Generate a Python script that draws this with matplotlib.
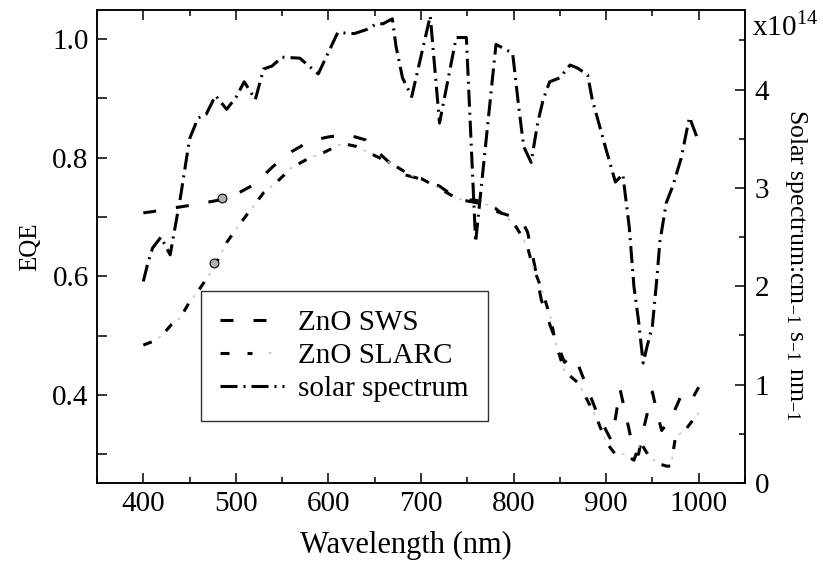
import numpy as np
import matplotlib
matplotlib.use("Agg")
import matplotlib.pyplot as plt
from matplotlib.legend_handler import HandlerTuple
from matplotlib.ticker import MultipleLocator

plt.rcParams['font.family'] = ['Liberation Serif', 'DejaVu Serif']
plt.rcParams['mathtext.fontset'] = 'stix'
plt.rcParams['lines.scale_dashes'] = False

# ZnO SWS EQE (dashed)
sws_wl = [400, 410, 420, 440, 460, 480, 490, 500, 520, 540, 560, 580, 600, 620,
          640, 660, 680, 700, 720, 740, 760, 780, 800, 810, 815, 820, 825, 830,
          840, 850, 855, 860, 865, 870, 880, 890, 900, 905, 910, 915, 920, 925,
          930, 935, 940, 950, 955, 960, 970, 980, 990, 1000]
sws_eqe = [0.707, 0.709, 0.712, 0.717, 0.722, 0.728, 0.732, 0.738, 0.755, 0.785,
           0.810, 0.828, 0.835, 0.839, 0.830, 0.800, 0.772, 0.764, 0.752, 0.730,
           0.724, 0.710, 0.700, 0.690, 0.675, 0.640, 0.600, 0.560, 0.515, 0.475,
           0.455, 0.462, 0.465, 0.450, 0.410, 0.370, 0.340, 0.325, 0.360, 0.410,
           0.375, 0.340, 0.300, 0.300, 0.340, 0.405, 0.370, 0.340, 0.360, 0.395,
           0.385, 0.413]

# ZnO SLARC EQE (dashes with grey dots)
slarc_wl = [400, 410, 420, 430, 440, 450, 460, 475, 490, 510, 530, 545, 560, 580,
            594, 615, 630, 652, 666, 688, 700, 720, 740, 760, 780, 800, 806, 815,
            820, 830, 840, 845, 855, 870, 880, 890, 900, 910, 920, 930, 937, 945,
            955, 965, 970, 975, 985, 990, 1000]
slarc_eqe = [0.484, 0.490, 0.500, 0.518, 0.530, 0.557, 0.577, 0.611, 0.657, 0.700,
             0.741, 0.760, 0.783, 0.800, 0.808, 0.824, 0.819, 0.802, 0.792, 0.771,
             0.765, 0.748, 0.730, 0.728, 0.715, 0.690, 0.675, 0.650, 0.620, 0.580,
             0.530, 0.490, 0.440, 0.420, 0.390, 0.360, 0.320, 0.300, 0.300, 0.290,
             0.320, 0.300, 0.285, 0.280, 0.280, 0.330, 0.340, 0.350, 0.370]

# solar spectrum (x10^14 cm^-1 s^-1 nm^-1)
sun_wl = [400, 405, 410, 419, 429, 440, 450, 459, 468, 478, 490, 500, 509, 521,
          530, 539, 550, 569, 589, 610, 628, 641, 652, 659, 669, 673, 680, 690,
          710, 720, 738, 749, 759, 781, 799, 806, 811, 819, 826, 832, 839, 850,
          861, 869, 880, 885, 900, 910, 918, 925, 930, 935, 940, 944, 950, 955,
          958, 965, 972, 981, 990, 1000]
sun_val = [2.05, 2.24, 2.39, 2.50, 2.32, 2.90, 3.50, 3.71, 3.75, 3.94, 3.80, 3.92,
           4.08, 3.90, 4.21, 4.24, 4.33, 4.32, 4.16, 4.58, 4.57, 4.61, 4.67, 4.67,
           4.72, 4.44, 4.12, 3.93, 4.75, 3.66, 4.53, 4.53, 2.45, 4.46, 4.37, 3.79,
           3.42, 3.26, 3.66, 3.90, 4.08, 4.12, 4.25, 4.22, 4.15, 3.90, 3.39, 3.06,
           3.14, 2.60, 2.00, 1.65, 1.22, 1.38, 1.60, 2.10, 2.45, 2.85, 3.02, 3.30,
           3.72, 3.47]

# two small grey markers
mark_wl = [485, 476.5]
mark_eqe = [0.7325, 0.623]

px = 0.72
fig = plt.figure(figsize=(8.23, 5.77), dpi=100)
ax = fig.add_axes([0.1179, 0.1629, 0.7873, 0.8198])
ax2 = ax.twinx()

lw = 2.2
l_sws, = ax.plot(sws_wl, sws_eqe, color='black', lw=lw,
                 dash_capstyle='butt', dashes=(13 * px, 20 * px))
l_sl1, = ax.plot(slarc_wl, slarc_eqe, color='black', lw=lw, dash_capstyle='butt',
                 dashes=(9 * px, 18 * px))
l_sl2, = ax.plot(slarc_wl, slarc_eqe, color='#c8c8c8', lw=1.2, dash_capstyle='butt',
                 linestyle=(10.5 * px, (3 * px, 24 * px)))
l_sun, = ax2.plot(sun_wl, sun_val, color='black', lw=lw, dash_capstyle='butt',
                  dashes=(17 * px, 6 * px, 2 * px, 6 * px))
ax.scatter(mark_wl, mark_eqe, s=40, marker='o', facecolor='#b0b0b0',
           edgecolor='black', linewidths=0.8, zorder=5)

ax.set_xlim(350, 1050)
ax.set_ylim(0.2515, 1.049)
ax2.set_ylim(0, 4.81)

fs = 21
ax.xaxis.set_major_locator(MultipleLocator(100))
ax.xaxis.set_minor_locator(MultipleLocator(50))
ax.yaxis.set_major_locator(MultipleLocator(0.2))
ax.yaxis.set_minor_locator(MultipleLocator(0.1))
ax2.yaxis.set_major_locator(MultipleLocator(1))
ax2.yaxis.set_minor_locator(MultipleLocator(0.5))
ax.set_yticks([0.4, 0.6, 0.8, 1.0])
ax.set_yticklabels(['0.4', '0.6', '0.8', '1.0'])

ax.tick_params(axis='x', which='both', direction='in', top=True, labelsize=fs, width=1.1)
ax.tick_params(axis='x', which='major', length=7, pad=6)
ax.tick_params(axis='x', which='minor', length=4)
ax.tick_params(axis='y', which='both', direction='in', right=False, labelsize=fs,
               width=1.1, length=7, pad=6)
ax2.tick_params(axis='y', which='both', direction='in', labelsize=fs, width=1.1)
ax2.tick_params(axis='y', which='major', length=7, pad=7)
ax2.tick_params(axis='y', which='minor', length=4)

for a in (ax, ax2):
    for s in a.spines.values():
        s.set_linewidth(1.1)

ax.set_xlabel('Wavelength (nm)', fontsize=22, va='center')
ax.xaxis.set_label_coords(0.477, -0.131)
ax.set_ylabel('EQE', fontsize=18, va='center')
ax.yaxis.set_label_coords(-0.103, 0.5)
ax2.set_ylabel(r'Solar spectrum:cm$_{\mathregular{-1}}$ s$_{\mathregular{-1}}$ nm$_{\mathregular{-1}}$',
               fontsize=18.5, rotation=270, va='center')
ax2.yaxis.set_label_coords(1.078, 0.462)
ax2.text(1.011, 0.945, 'x10$^{\\mathregular{14}}$', transform=ax2.transAxes,
         fontsize=fs, va='baseline', ha='left')

leg = ax.legend([l_sws, (l_sl1, l_sl2), l_sun],
                ['ZnO SWS', 'ZnO SLARC', 'solar spectrum'],
                handler_map={tuple: HandlerTuple(ndivide=None, pad=0)},
                loc='lower left', bbox_to_anchor=(0.160, 0.131), borderaxespad=0,
                fontsize=fs, frameon=True, fancybox=False, edgecolor='black',
                handlelength=2.2, handletextpad=0.5, labelspacing=0.22,
                borderpad=0.65)
leg.get_frame().set_linewidth(1.0)

fig.savefig('out.png', dpi=100)
